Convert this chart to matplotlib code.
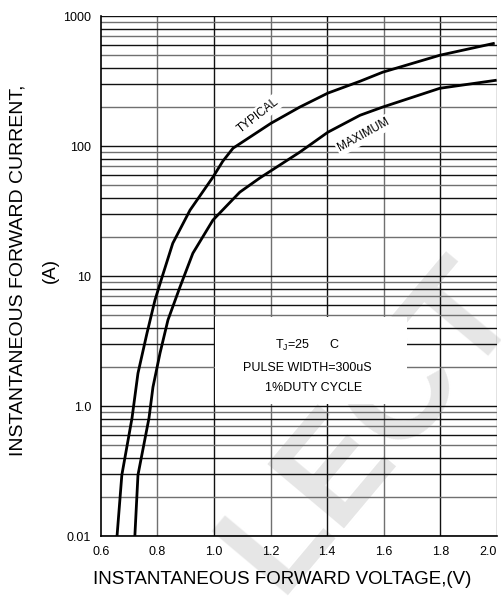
import matplotlib
matplotlib.use("Agg")
import matplotlib.pyplot as plt
from matplotlib.patches import Rectangle

plt.rcParams['font.family'] = ['Liberation Sans', 'DejaVu Sans']

# forward voltage (V) vs forward current (A)
typ_v = [0.657, 0.674, 0.710, 0.731, 0.763, 0.791, 0.816, 0.854, 0.915, 0.996, 1.031, 1.067, 1.201, 1.303, 1.402, 1.516, 1.596, 1.798, 1.992]
typ_i = [0.1, 0.295, 0.81, 1.79, 3.65, 6.53, 9.8, 17.9, 32.2, 57.8, 76.7, 96.5, 150, 200, 256, 316, 371, 501, 620]
max_v = [0.720, 0.731, 0.770, 0.784, 0.809, 0.837, 0.879, 0.925, 0.996, 1.091, 1.162, 1.303, 1.402, 1.516, 1.596, 1.798, 1.999]
max_i = [0.1, 0.295, 0.81, 1.4, 2.56, 4.6, 8.2, 15, 27, 44.3, 57, 90, 128, 173, 200, 279, 322]

x_ticks = [0.6, 0.8, 1.0, 1.2, 1.4, 1.6, 1.8, 2.0]
x_labels = ['0.6', '0.8', '1.0', '1.2', '1.4', '1.6', '1.8', '2.0']
y_ticks = [0.1, 1, 10, 100, 1000]
y_labels = ['0.01', '1.0', '10', '100', '1000']
v_grid = [0.8, 1.0, 1.2, 1.4, 1.6, 1.8, 2.0]
decades = [0.1, 1, 10, 100]

fig = plt.figure(figsize=(5.02, 6.01), dpi=100)
ax = fig.add_axes([0.201, 0.108, 0.789, 0.865])
ax.set_yscale('log')
ax.set_xlim(0.6, 2.0)
ax.set_ylim(0.1, 1000)
ax.patch.set_alpha(0)

# faint watermark behind the grid
ax.text(0.74, 0.29, 'LECT', rotation=50, fontsize=104, color='#e6e6e6', fontweight='bold',
        ha='center', va='center', zorder=0.5, transform=fig.transFigure, clip_on=False)

# grid
for i, v in enumerate(v_grid):
    ax.axvline(v, color='#111111' if i % 2 else '#707070', lw=1.0, zorder=1)
for d in decades:
    for k in range(1, 10):
        col = '#111111' if k in (1, 3, 4, 6, 8) else '#707070'
        ax.axhline(d * k, color=col, lw=1.0, zorder=1)
ax.axhline(1000, color='#111111', lw=1.0, zorder=1)

# white panel behind the conditions text
ax.add_patch(Rectangle((1.003, 1.03), 0.678, 3.85, facecolor='white',
                       edgecolor='none', zorder=2))
ax.text(1.33, 2.95, 'T$_\\mathregular{J}$=25      C', fontsize=9, ha='center', va='center', zorder=3)
ax.text(1.33, 1.95, 'PULSE WIDTH=300uS', fontsize=9, ha='center', va='center', zorder=3)
ax.text(1.35, 1.37, '1%DUTY CYCLE', fontsize=9, ha='center', va='center', zorder=3)

ax.plot(typ_v, typ_i, color='black', lw=2.0, zorder=4, solid_capstyle='butt')
ax.plot(max_v, max_i, color='black', lw=2.0, zorder=4, solid_capstyle='butt')

ax.text(1.155, 172, 'TYPICAL', rotation=38, fontsize=8.5, ha='center', va='center', zorder=3,
        bbox=dict(facecolor='white', edgecolor='none', pad=1.5))
ax.text(1.53, 122, 'MAXIMUM', rotation=29, fontsize=8.5, ha='center', va='center', zorder=3,
        bbox=dict(facecolor='white', edgecolor='none', pad=1.5))

ax.set_xticks(x_ticks)
ax.set_xticklabels(x_labels, fontsize=9)
ax.get_xticklabels()[-1].set_ha('right')
ax.set_yticks(y_ticks)
ax.set_yticklabels(y_labels, fontsize=9)
ax.minorticks_off()
ax.tick_params(length=0, pad=7)
for s in ['top', 'right']:
    ax.spines[s].set_visible(False)
for s in ['left', 'bottom']:
    ax.spines[s].set_color('black')
    ax.spines[s].set_linewidth(1.2)

fig.text(0.562, 0.035, 'INSTANTANEOUS FORWARD VOLTAGE,(V)', fontsize=13.5,
         ha='center', va='center')
fig.text(0.036, 0.55, 'INSTANTANEOUS FORWARD CURRENT,', rotation=90, fontsize=14,
         ha='center', va='center')
fig.text(0.100, 0.55, '(A)', rotation=90, fontsize=13.5, ha='center', va='center')

fig.savefig('out.png', dpi=100)
